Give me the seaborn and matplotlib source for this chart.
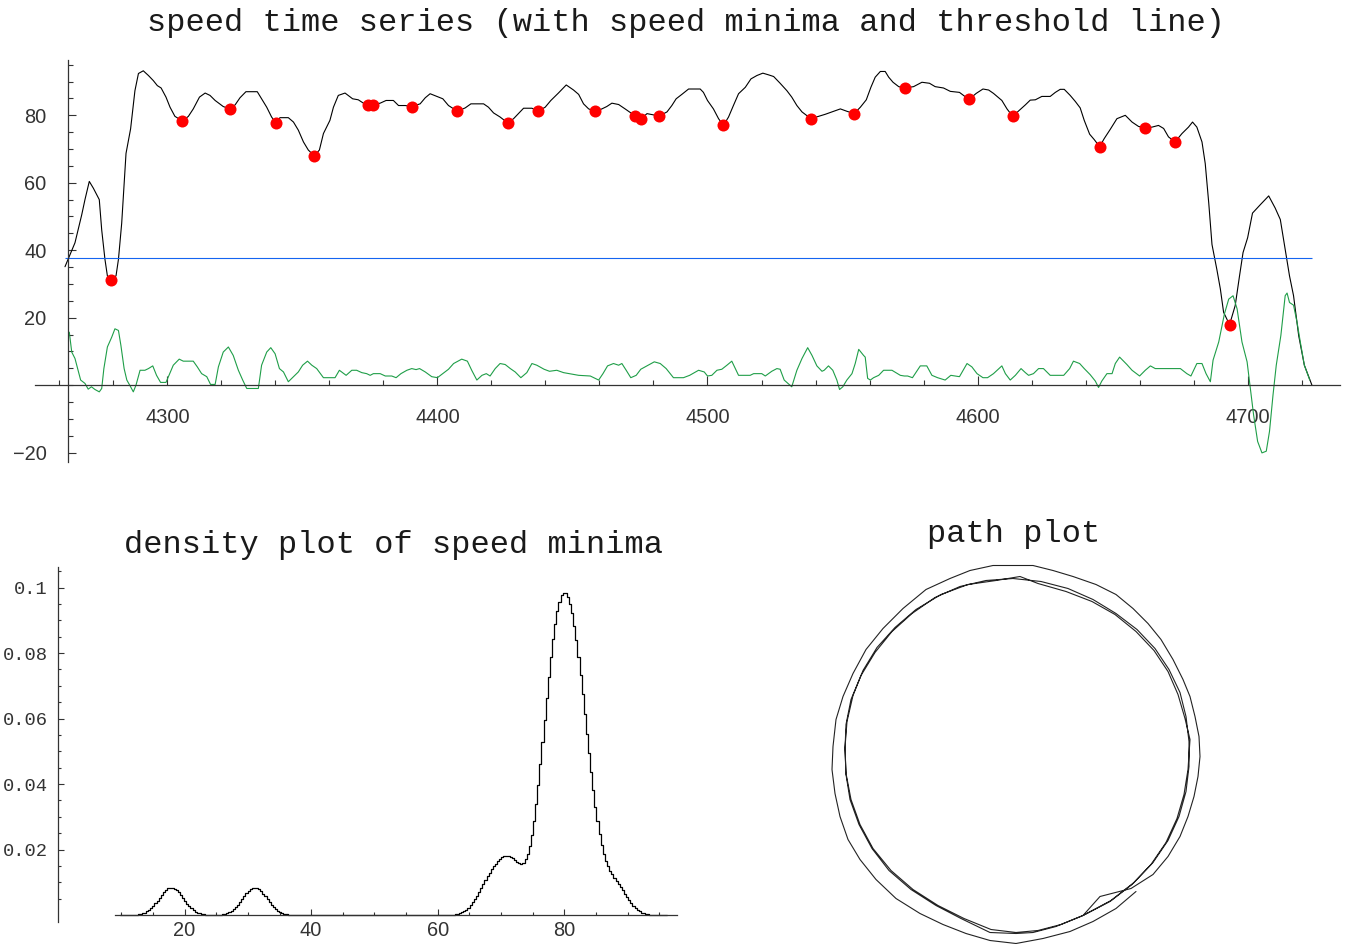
import numpy as np
import pandas as pd
import matplotlib
matplotlib.use("Agg")
import matplotlib.pyplot as plt
import seaborn as sns
from matplotlib.ticker import FixedLocator, MultipleLocator, FuncFormatter

# ---- data ----
speed_t = [4262.1, 4265.8, 4268.3, 4269.5, 4271.1, 4272.6, 4274.8, 4275.7, 4276.9, 4277.8,
           4279.1, 4281.0, 4281.9, 4283.1, 4284.7, 4286.4, 4288.0, 4289.3, 4291.1, 4293.0,
           4294.8, 4296.3, 4297.7, 4299.5, 4301.0, 4302.8, 4305.6, 4307.8, 4309.6, 4311.9,
           4314.0, 4315.8, 4317.7, 4320.7, 4323.2, 4325.1, 4326.9, 4329.1, 4333.3, 4334.9,
           4336.8, 4338.6, 4340.2, 4341.7, 4344.8, 4346.7, 4348.5, 4350.4, 4352.2, 4354.4,
           4356.3, 4357.8, 4360.2, 4361.5, 4363.3, 4365.8, 4368.6, 4370.7, 4372.6, 4374.4,
           4376.3, 4378.8, 4381.0, 4383.7, 4385.6, 4388.1, 4390.5, 4393.6, 4395.5, 4397.3,
           4399.8, 4402.0, 4404.1, 4407.4, 4410.3, 4412.4, 4417.1, 4418.9, 4420.8, 4423.2,
           4426.1, 4428.2, 4431.9, 4435.0, 4437.2, 4439.9, 4442.0, 4444.8, 4447.7, 4450.4,
           4452.3, 4454.1, 4456.0, 4458.4, 4460.9, 4462.7, 4464.6, 4467.1, 4469.5, 4472.0,
           4473.2, 4475.5, 4477.6, 4482.1, 4485.0, 4486.8, 4488.4, 4490.5, 4493.0, 4497.3,
           4498.5, 4500.0, 4502.2, 4504.1, 4505.9, 4507.8, 4509.6, 4511.5, 4514.0, 4516.1,
           4518.3, 4520.5, 4522.6, 4524.5, 4526.9, 4529.4, 4531.2, 4533.1, 4535.0, 4538.3,
           4541.1, 4543.6, 4546.1, 4549.2, 4551.6, 4554.3, 4556.6, 4558.8, 4560.5, 4562.1,
           4564.0, 4565.8, 4567.1, 4568.7, 4570.8, 4573.0, 4576.3, 4579.4, 4582.2, 4584.3,
           4587.4, 4589.9, 4593.3, 4596.8, 4599.5, 4602.0, 4604.1, 4605.9, 4609.0, 4610.9,
           4613.0, 4615.8, 4617.7, 4619.5, 4621.4, 4623.8, 4626.9, 4628.8, 4630.6, 4632.1,
           4634.3, 4636.2, 4638.0, 4639.5, 4641.5, 4643.2, 4645.2, 4646.9, 4649.1, 4651.6,
           4654.7, 4657.2, 4659.6, 4662.1, 4664.6, 4667.0, 4668.9, 4670.7, 4673.1, 4675.7,
           4678.1, 4679.6, 4681.2, 4683.1, 4684.3, 4685.6, 4686.8, 4688.6, 4689.9, 4691.1,
           4693.3, 4695.4, 4697.0, 4698.3, 4700.0, 4701.8, 4704.7, 4707.8, 4710.2, 4712.1,
           4713.9, 4715.5, 4717.0, 4718.9, 4721.0, 4723.8]
speed_v = [35.1, 42.2, 50.5, 55.0, 60.4, 58.4, 55.0, 46.0, 37.3, 32.4,
           31.1, 32.4, 37.3, 48.0, 68.7, 76.0, 87.3, 92.4, 93.2, 91.8,
           90.3, 88.8, 88.1, 85.4, 82.4, 79.7, 78.3, 79.7, 81.9, 85.4,
           86.6, 85.9, 84.4, 82.6, 81.9, 83.1, 85.2, 87.0, 87.0, 84.9,
           82.4, 79.5, 77.7, 79.3, 79.3, 78.0, 75.6, 72.1, 69.7, 68.0,
           69.7, 74.6, 78.5, 82.4, 85.9, 86.6, 84.9, 84.6, 83.6, 83.2,
           83.2, 83.6, 84.4, 84.4, 82.9, 82.9, 82.6, 83.4, 85.2, 86.4,
           85.6, 84.9, 82.9, 81.2, 82.2, 83.4, 83.4, 82.4, 80.7, 79.5,
           77.7, 79.0, 82.1, 82.1, 81.2, 82.4, 84.4, 86.6, 89.0, 87.5,
           86.2, 83.4, 81.9, 81.2, 81.9, 82.6, 83.6, 83.2, 81.9, 80.5,
           79.7, 79.0, 80.5, 79.8, 81.0, 82.9, 84.9, 86.2, 87.8, 87.8,
           86.8, 84.4, 81.9, 79.0, 77.0, 79.5, 82.9, 86.4, 88.3, 90.8,
           91.8, 92.5, 92.0, 91.5, 89.5, 87.3, 85.4, 82.9, 81.0, 79.0,
           79.7, 80.3, 81.0, 81.9, 81.2, 80.5, 82.4, 84.6, 88.3, 91.3,
           93.0, 93.0, 91.3, 89.8, 88.5, 88.1, 88.5, 89.8, 89.5, 88.5,
           88.1, 87.1, 86.8, 84.7, 86.5, 87.8, 87.5, 86.5, 84.4, 81.9,
           79.7, 81.7, 83.1, 84.5, 84.6, 85.6, 85.6, 86.8, 87.7, 87.7,
           85.9, 84.1, 82.2, 78.5, 74.4, 72.8, 70.7, 73.1, 75.8, 79.0,
           80.0, 78.0, 76.7, 76.3, 76.5, 77.0, 76.1, 73.6, 72.1, 74.6,
           76.5, 78.0, 76.5, 72.1, 65.7, 54.0, 41.7, 34.3, 28.5, 21.6,
           17.9, 23.6, 32.4, 39.3, 43.7, 51.0, 53.5, 56.1, 52.5, 49.1,
           40.2, 32.4, 26.5, 14.7, 5.9, 0.0]

minima_t = [4279.1, 4305.6, 4323.2, 4340.2, 4354.4, 4374.4, 4376.3, 4390.5, 4407.4, 4426.1,
            4437.2, 4458.4, 4473.2, 4475.5, 4482.1, 4505.9, 4538.3, 4554.3, 4573.0, 4596.8,
            4613.0, 4645.2, 4662.1, 4673.1, 4693.3]
minima_v = [31.1, 78.3, 81.9, 77.7, 68.0, 83.2, 83.2, 82.6, 81.2, 77.7,
            81.2, 81.2, 79.7, 79.0, 79.8, 77.0, 79.0, 80.5, 88.1, 84.7,
            79.7, 70.7, 76.3, 72.1, 17.9]

threshold = 37.6

diff_t = [4263.7, 4264.6, 4265.8, 4267.9, 4269.5, 4270.7, 4271.9, 4273.2, 4274.8, 4275.7,
          4276.5, 4277.8, 4279.4, 4280.6, 4281.9, 4282.8, 4284.0, 4285.0, 4286.4, 4287.4,
          4288.4, 4289.9, 4291.7, 4293.0, 4294.6, 4296.0, 4297.5, 4299.5, 4300.4, 4302.2,
          4304.4, 4305.9, 4309.6, 4311.1, 4312.7, 4314.6, 4316.0, 4317.7, 4318.9, 4320.7,
          4322.6, 4324.4, 4326.3, 4327.9, 4329.4, 4333.7, 4334.9, 4336.8, 4338.3, 4339.9,
          4341.5, 4343.0, 4344.8, 4346.7, 4348.5, 4350.1, 4351.9, 4353.5, 4355.3, 4357.8,
          4362.1, 4363.7, 4366.2, 4368.3, 4370.1, 4372.0, 4373.8, 4375.1, 4376.3, 4378.8,
          4380.7, 4383.1, 4384.7, 4386.5, 4388.7, 4390.5, 4392.1, 4393.4, 4395.5, 4397.9,
          4400.0, 4402.0, 4404.1, 4406.0, 4409.0, 4411.1, 4412.7, 4414.6, 4416.5, 4418.1,
          4419.5, 4421.4, 4423.2, 4425.1, 4427.0, 4428.8, 4430.9, 4433.1, 4435.0, 4436.8,
          4439.5, 4441.5, 4444.2, 4446.7, 4452.3, 4456.6, 4459.7, 4461.3, 4463.0, 4465.2,
          4467.1, 4468.3, 4469.9, 4471.6, 4473.6, 4475.3, 4477.6, 4480.3, 4482.5, 4484.7,
          4487.4, 4491.1, 4493.4, 4496.7, 4498.8, 4500.0, 4501.6, 4503.5, 4505.3, 4507.2,
          4509.0, 4511.5, 4515.8, 4517.1, 4520.1, 4521.4, 4523.8, 4525.7, 4526.9, 4528.4,
          4531.2, 4533.1, 4535.0, 4537.1, 4538.7, 4540.5, 4542.4, 4543.2, 4544.8, 4546.4,
          4547.9, 4548.9, 4550.1, 4551.6, 4553.5, 4554.7, 4556.0, 4557.8, 4558.4, 4559.3,
          4560.3, 4561.5, 4563.4, 4565.2, 4568.3, 4571.4, 4572.9, 4574.1, 4575.9, 4576.9,
          4578.8, 4581.2, 4583.1, 4585.2, 4588.0, 4590.1, 4591.7, 4593.3, 4596.1, 4597.9,
          4599.8, 4602.0, 4603.7, 4605.9, 4609.0, 4610.3, 4612.1, 4614.0, 4616.1, 4617.7,
          4618.9, 4620.7, 4622.6, 4624.4, 4626.9, 4631.9, 4634.1, 4635.5, 4637.8, 4639.5,
          4641.7, 4643.6, 4644.8, 4646.0, 4647.9, 4649.8, 4651.0, 4652.6, 4655.3, 4657.2,
          4660.0, 4662.1, 4664.0, 4665.8, 4675.1, 4677.5, 4679.0, 4681.2, 4683.1, 4684.6,
          4686.2, 4687.2, 4689.3, 4691.4, 4693.0, 4694.6, 4696.1, 4697.9, 4699.8, 4701.0,
          4702.2, 4703.7, 4705.3, 4706.9, 4708.1, 4709.4, 4710.6, 4712.3, 4713.9, 4714.6,
          4715.5, 4717.0, 4718.3, 4719.5, 4721.0, 4723.0]
diff_v = [15.7, 9.8, 7.9, 1.5, 0.5, -1.2, -0.5, -1.3, -2.0, -1.0,
          4.9, 11.3, 14.2, 16.7, 16.2, 11.8, 4.9, 1.5, -0.5, -2.0,
          0.0, 4.4, 4.4, 4.9, 5.7, 2.9, 0.8, 0.8, 2.5, 5.9,
          7.7, 7.1, 7.1, 5.4, 3.4, 2.5, 0.2, 0.2, 5.4, 9.8,
          11.3, 8.8, 4.4, 1.5, -1.0, -1.0, 5.9, 9.8, 11.1, 9.3,
          4.9, 3.9, 1.0, 2.5, 3.9, 5.9, 7.1, 5.9, 4.9, 2.2,
          2.2, 4.4, 2.9, 4.4, 4.4, 3.7, 3.4, 2.9, 3.4, 3.4,
          2.7, 2.7, 2.2, 3.4, 4.4, 4.9, 4.6, 4.9, 3.9, 2.5,
          2.2, 3.4, 4.7, 6.4, 7.7, 7.1, 4.4, 1.5, 2.9, 3.4,
          2.7, 4.9, 6.4, 6.1, 4.9, 3.9, 2.2, 3.7, 6.4, 5.9,
          4.7, 4.1, 4.4, 3.7, 2.9, 2.7, 1.5, 3.4, 5.7, 6.4,
          5.9, 6.4, 4.4, 2.2, 2.9, 4.7, 5.7, 6.9, 6.4, 4.9,
          2.2, 2.2, 2.9, 4.4, 3.9, 2.7, 2.9, 4.4, 4.7, 5.9,
          7.1, 2.9, 2.9, 3.4, 3.4, 2.7, 4.1, 4.9, 4.7, 1.5,
          -0.5, 4.4, 7.9, 11.1, 8.8, 5.7, 4.1, 4.4, 5.7, 4.4,
          1.5, -1.3, -0.5, 1.5, 3.4, 6.4, 10.6, 8.8, 8.3, 2.0,
          1.5, 2.2, 2.9, 4.4, 4.4, 2.9, 2.7, 2.7, 2.2, 3.4,
          5.7, 5.7, 2.9, 2.2, 1.5, 2.9, 2.7, 2.5, 6.4, 5.4,
          3.4, 2.2, 2.2, 3.4, 5.7, 3.4, 1.5, 2.9, 4.9, 3.7,
          2.9, 3.4, 4.9, 4.9, 2.9, 2.9, 4.9, 7.1, 6.4, 4.9,
          3.1, 1.2, -0.7, 1.2, 3.4, 3.4, 6.4, 8.3, 6.1, 4.4,
          2.7, 4.4, 5.7, 4.9, 4.9, 3.4, 2.7, 6.4, 6.4, 3.4,
          1.0, 7.4, 12.8, 21.1, 25.5, 26.5, 22.6, 12.8, 6.9, -1.0,
          -8.8, -16.7, -20.1, -19.6, -13.7, -2.9, 5.9, 14.7, 26.5, 27.3,
          24.5, 23.7, 18.6, 12.8, 5.9, 1.5]

# path of the car (track coordinates, centre of the track at 0,0)
lap1_x = [67, 95, 118, 137, 152, 163, 170, 173, 173, 170, 164, 153, 139, 121, 100, 77, 52, 25, -3, -30,
          -56, -81, -104, -124, -141, -155, -165, -170, -171, -170, -166, -157, -144, -127, -105, -80,
          -55, -26, 0, 17, 40]
lap1_y = [-161, -146, -128, -108, -86, -62, -37, -12, 13, 38, 62, 85, 106, 125, 141, 155, 166, 173, 176, 174,
          168, 157, 141, 123, 102, 79, 55, 30, 5, -20, -45, -70, -94, -116, -135, -151,
          -164, -178, -179, -178, -172]
lap2_x = [67, 94, 116, 135, 150, 161, 168, 172, 174, 169, 162, 152, 138, 120, 99, 76, 50, 22, 4, -20,
          -48, -75, -100, -121, -139, -153, -163, -169, -171, -170, -165, -156, -143, -125, -103, -78,
          -52, -25, 0, 22, 45, 67, 84, 115]
lap2_y = [-161, -147, -130, -110, -88, -64, -40, -15, 15, 36, 60, 83, 104, 123, 140, 153, 163, 171, 178, 174,
          170, 160, 145, 127, 107, 84, 59, 33, 7, -19, -45, -70, -94, -116, -135, -151,
          -164, -175, -178, -176, -170, -161, -142, -134]
lap3_x = [137, 152, 164, 172, 178, 182, 184, 183, 179, 174, 167, 157, 145, 132, 117, 100, 80, 57, 37, 17,
          -23, -46, -66, -90, -113, -133, -150, -163, -173, -180, -183, -184, -181, -176, -168, -156,
          -140, -120, -96, -73, -50, -26, 0, 27, 54, 77, 100, 120]
lap3_y = [-120, -102, -82, -62, -42, -22, -2, 18, 38, 58, 75, 95, 115, 131, 146, 160, 170, 178, 184, 189,
          189, 184, 176, 165, 146, 126, 105, 81, 58, 35, 8, -15, -39, -62, -85, -105,
          -125, -144, -159, -170, -179, -186, -189, -184, -177, -167, -154, -137]

W, H = 1345, 944
AXIS_COLOR = "#333333"


def fig_box(left, top, right, bottom):
    """pixel box -> figure fraction [l, b, w, h]"""
    return [left / W, 1 - bottom / H, (right - left) / W, (bottom - top) / H]


sns.set_theme(style="ticks")
plt.rcParams["font.family"] = ["Liberation Sans", "DejaVu Sans"]
plt.rcParams["axes.unicode_minus"] = True

fig = plt.figure(figsize=(W / 100, H / 100), dpi=100)

# ---------- top: speed time series ----------
ax1 = fig.add_axes(fig_box(35, 60, 1340, 462))
sns.lineplot(x=speed_t, y=speed_v, ax=ax1, color="black", lw=0.8, estimator=None, sort=False)
sns.lineplot(x=diff_t, y=diff_v, ax=ax1, color="#1f9e48", lw=0.8, estimator=None, sort=False)
ax1.hlines(threshold, speed_t[0], speed_t[-1], color="#1464f0", lw=0.8)
sns.scatterplot(x=minima_t, y=minima_v, ax=ax1, color="red", s=75, linewidth=0, zorder=5)

ax1.set_xlim(4251, 4734.2)
ax1.set_ylim(-22.8, 96.4)
for side in ["top", "right"]:
    ax1.spines[side].set_visible(False)
ax1.spines["left"].set_position(("data", 4263.2))
ax1.spines["bottom"].set_position(("data", 0))
for side in ["left", "bottom"]:
    ax1.spines[side].set_color(AXIS_COLOR)
    ax1.spines[side].set_linewidth(0.9)
ax1.xaxis.set_major_locator(MultipleLocator(100))
ax1.xaxis.set_minor_locator(MultipleLocator(20))
ax1.yaxis.set_major_locator(FixedLocator([-20, 20, 40, 60, 80]))
ax1.yaxis.set_minor_locator(MultipleLocator(5))
ax1.tick_params(axis="x", which="major", bottom=True, direction="in", length=6.5, width=0.8, pad=16.5,
                labelsize=14.4, labelcolor="#333333", color=AXIS_COLOR)
ax1.tick_params(axis="x", which="minor", bottom=True, direction="in", length=3.8, width=0.8,
                color=AXIS_COLOR)
ax1.tick_params(axis="y", which="major", left=True, direction="in", length=6, width=0.8, pad=15.5,
                labelsize=14.4, labelcolor="#333333", color=AXIS_COLOR)
ax1.tick_params(axis="y", which="minor", left=True, direction="in", length=3.8, width=0.8,
                color=AXIS_COLOR)
ax1.set_xlabel("")
ax1.set_ylabel("")

# ---------- bottom left: density of the minima ----------
ax2 = fig.add_axes(fig_box(58, 567, 677, 921.6))
bw_factor = 1.9 / np.std(minima_v, ddof=1)
sns.kdeplot(x=minima_v, ax=ax2, bw_method=bw_factor, cut=4.3, gridsize=260,
            color="black", lw=0.9, drawstyle="steps-mid")
ax2.set_xlim(0, 97.8)
ax2.set_ylim(-0.002, 0.1063)
for side in ["top", "right"]:
    ax2.spines[side].set_visible(False)
ax2.spines["bottom"].set_position(("data", 0))
ax2.spines["bottom"].set_bounds(9, 97.8)
for side in ["left", "bottom"]:
    ax2.spines[side].set_color(AXIS_COLOR)
    ax2.spines[side].set_linewidth(0.9)
ax2.xaxis.set_major_locator(FixedLocator([20, 40, 60, 80]))
ax2.xaxis.set_minor_locator(FixedLocator(list(range(10, 96, 5))))
ax2.yaxis.set_major_locator(FixedLocator([0.02, 0.04, 0.06, 0.08, 0.1]))
ax2.yaxis.set_minor_locator(FixedLocator([k * 0.005 for k in range(1, 22)]))
ax2.yaxis.set_major_formatter(FuncFormatter(lambda v, p: f"{v:g}"))
ax2.tick_params(axis="x", which="major", bottom=True, direction="in", length=4, width=0.8, pad=4,
                labelsize=14.4, labelcolor="#333333", color=AXIS_COLOR)
ax2.tick_params(axis="x", which="minor", bottom=True, direction="in", length=2.2, width=0.8,
                color=AXIS_COLOR)
ax2.tick_params(axis="y", which="major", left=True, direction="in", length=4.5, width=0.8, pad=7.5,
                labelsize=13.5, labelcolor="#333333", color=AXIS_COLOR,
                labelfontfamily="Liberation Mono")
ax2.tick_params(axis="y", which="minor", left=True, direction="in", length=2.5, width=0.8,
                color=AXIS_COLOR)
ax2.set_xlabel("")
ax2.set_ylabel("")

# ---------- bottom right: path plot ----------
path = pd.DataFrame({
    "x": lap1_x + lap2_x + lap3_x,
    "y": lap1_y + lap2_y + lap3_y,
})
ax3 = fig.add_axes(fig_box(816, 554.5, 1216, 954.5))
sns.lineplot(data=path, x="x", y="y", ax=ax3, color="#222222", lw=0.8, estimator=None, sort=False)
ax3.set_xlim(-200, 200)
ax3.set_ylim(-200, 200)
ax3.axis("off")

# ---------- titles ----------
title_kw = dict(ha="center", va="center", family="Liberation Mono", size=23, color="#1a1a1a")
fig.text(686 / W, 1 - 22.5 / H, "speed time series (with speed minima and threshold line)", **title_kw)
fig.text(393 / W, 1 - 545 / H, "density plot of speed minima", **title_kw)
fig.text(1014 / W, 1 - 534 / H, "path plot", **title_kw)

fig.savefig("out.png", dpi=100)
